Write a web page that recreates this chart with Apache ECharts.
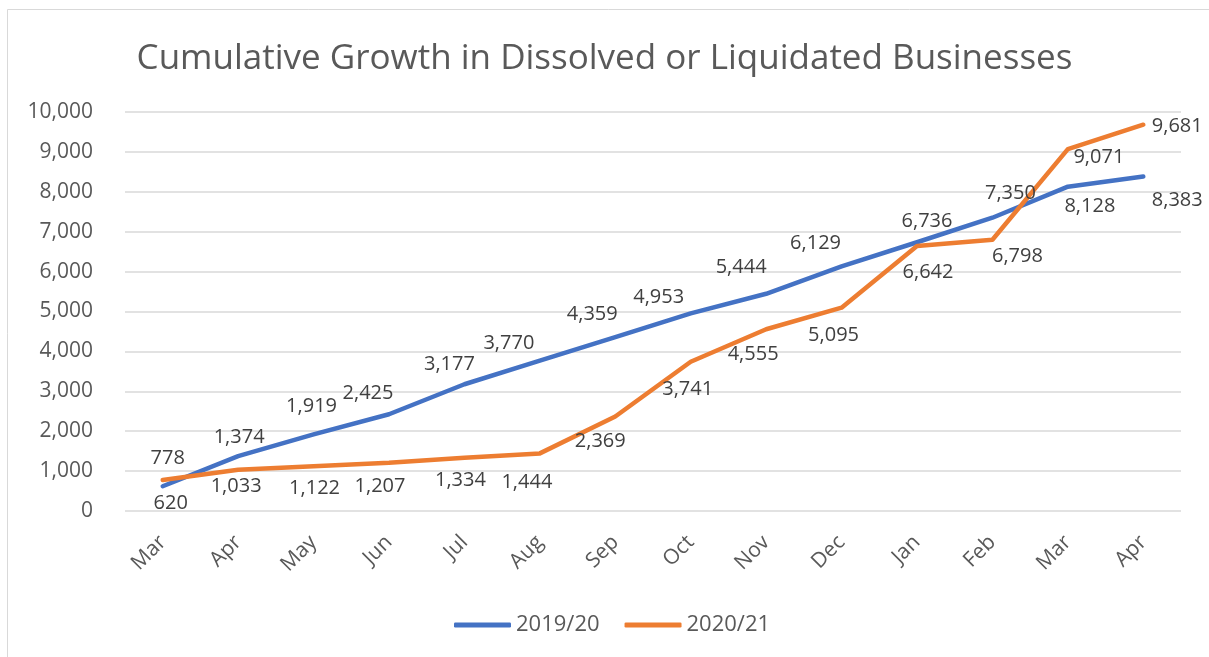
<!DOCTYPE html>
<html>
<head>
<meta charset="utf-8">
<script src="https://cdn.jsdelivr.net/npm/echarts@6/dist/echarts.min.js"></script>
<style>
html,body{margin:0;padding:0;background:#fff;}
#c{width:1209px;height:657px;}
</style>
</head>
<body>
<div id="c"></div>
<script>
const categories = ['Mar','Apr','May','Jun','Jul','Aug','Sep','Oct','Nov','Dec','Jan','Feb','Mar','Apr'];
const series2019 = [620,1374,1919,2425,3177,3770,4359,4953,5444,6129,6736,7350,8128,8383];
const series2020 = [778,1033,1122,1207,1334,1444,2369,3741,4555,5095,6642,6798,9071,9681];
const yTicks = [0,1000,2000,3000,4000,5000,6000,7000,8000,9000,10000];

// label placement (style only): [dx, dy] from each point
const offsets2019 = [[8,17],[1,-19],[-2,-28],[-21,-21],[-15,-20],[-31,-17],[-23,-23],[-32,-16],[-25,-26],[-26,-23],[10,-21],[18,-24],[22,20],[34,24]];
const offsets2020 = [[5,-22],[-2,17],[1,22],[-9,23],[-4,23],[-13,29],[-15,25],[-3,28],[-13,25],[-8,28],[11,26],[25,17],[31,8],[34,2]];

const FONT = '"Open Sans", "Noto Sans", sans-serif';
const fmt = v => Number(v).toLocaleString('en-US');

function buildData(values, offsets){
  return values.map((v,i)=>({
    value: v,
    label: {offset: offsets[i]}
  }));
}

const chart = echarts.init(document.getElementById('c'), null, {renderer:'canvas'});
chart.setOption({
  animation: false,
  backgroundColor: '#fff',
  graphic: [{
    type: 'rect',
    shape: {x: 7.5, y: 9.5, width: 1220, height: 700},
    style: {fill: 'none', stroke: '#d9d9d9', lineWidth: 1},
    silent: true, z: -10
  }],
  title: {
    text: 'Cumulative Growth in Dissolved or Liquidated Businesses',
    left: 'center',
    top: 37,
    textStyle: {fontFamily: FONT, fontSize: 35, fontWeight: 'normal', color: '#595959'}
  },
  legend: {
    left: 449,
    top: 609,
    itemWidth: 57,
    itemHeight: 5,
    itemGap: 25,
    icon: 'roundRect',
    textStyle: {fontFamily: FONT, fontSize: 22, color: '#595959'},
    data: ['2019/20','2020/21']
  },
  grid: {left: 125, right: 28, top: 112, bottom: 146, containLabel: false},
  xAxis: {
    type: 'category',
    data: categories,
    boundaryGap: true,
    axisLine: {show: false},
    axisTick: {show: false},
    axisLabel: {
      rotate: 45, margin: 28, interval: 0,
      fontFamily: FONT, fontSize: 21, color: '#595959'
    }
  },
  yAxis: {
    type: 'value',
    min: yTicks[0],
    max: yTicks[yTicks.length-1],
    interval: 1000,
    axisLine: {show: false},
    axisTick: {show: false},
    splitLine: {lineStyle: {color: '#d9d9d9', width: 1.5}},
    axisLabel: {
      margin: 32,
      fontFamily: FONT, fontSize: 21, color: '#595959',
      formatter: fmt
    }
  },
  series: [
    {
      name: '2019/20',
      type: 'line',
      data: buildData(series2019, offsets2019),
      symbol: 'circle',
      symbolSize: 2,
      showSymbol: true,
      color: '#4472C4',
      lineStyle: {width: 4.5, color: '#4472C4', cap: 'round', join: 'round'},
      label: {
        show: true, position: 'inside',
        fontFamily: FONT, fontSize: 20, color: '#404040',
        formatter: p => fmt(p.value)
      }
    },
    {
      name: '2020/21',
      type: 'line',
      data: buildData(series2020, offsets2020),
      symbol: 'circle',
      symbolSize: 2,
      showSymbol: true,
      color: '#ED7D31',
      lineStyle: {width: 4.5, color: '#ED7D31', cap: 'round', join: 'round'},
      label: {
        show: true, position: 'inside',
        fontFamily: FONT, fontSize: 20, color: '#404040',
        formatter: p => fmt(p.value)
      }
    }
  ]
});
</script>
</body>
</html>
